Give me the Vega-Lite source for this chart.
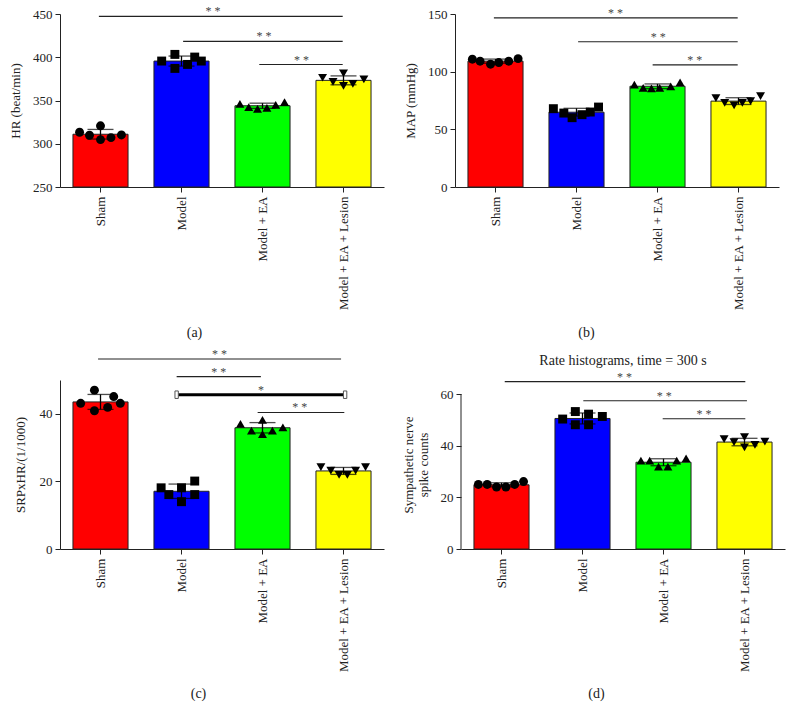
{
  "$schema": "https://vega.github.io/schema/vega-lite/v6.json",
  "background": "white",
  "padding": {"left": 9, "top": 5, "right": 5, "bottom": 5},
  "config": {
    "font": "Liberation Serif",
    "view": {"stroke": null},
    "axis": {"grid": false, "domainColor": "#222", "tickColor": "#222", "labelColor": "#222", "titleColor": "#222", "labelFont": "Liberation Serif", "titleFont": "Liberation Serif", "labelFontSize": 13, "titleFontSize": 13, "titleFontWeight": "normal", "tickSize": 5, "labelPadding": 3},
    "title": {"font": "Liberation Serif", "fontWeight": "normal", "fontSize": 14, "color": "#222"}
  },
  "datasets": {
    "hr": [
      {"group": "Sham", "value": 313.3, "jitter": -0.38}, {"group": "Sham", "value": 309.8, "jitter": -0.2}, {"group": "Sham", "value": 320.7, "jitter": 0}, {"group": "Sham", "value": 304.8, "jitter": 0}, {"group": "Sham", "value": 307.1, "jitter": 0.19}, {"group": "Sham", "value": 310.2, "jitter": 0.38},
      {"group": "Model", "value": 395.6, "jitter": -0.36}, {"group": "Model", "value": 403.3, "jitter": -0.12}, {"group": "Model", "value": 387.1, "jitter": -0.12}, {"group": "Model", "value": 391.7, "jitter": 0.11}, {"group": "Model", "value": 400.2, "jitter": 0.24}, {"group": "Model", "value": 395.6, "jitter": 0.36},
      {"group": "Model + EA", "value": 346.2, "jitter": -0.41}, {"group": "Model + EA", "value": 342.3, "jitter": -0.25}, {"group": "Model + EA", "value": 340.4, "jitter": -0.09}, {"group": "Model + EA", "value": 341.5, "jitter": 0.08}, {"group": "Model + EA", "value": 345.0, "jitter": 0.24}, {"group": "Model + EA", "value": 348.1, "jitter": 0.4},
      {"group": "Model + EA + Lesion", "value": 376.3, "jitter": -0.38}, {"group": "Model + EA + Lesion", "value": 371.6, "jitter": -0.19}, {"group": "Model + EA + Lesion", "value": 381.3, "jitter": 0}, {"group": "Model + EA + Lesion", "value": 367.0, "jitter": 0}, {"group": "Model + EA + Lesion", "value": 369.3, "jitter": 0.17}, {"group": "Model + EA + Lesion", "value": 374.3, "jitter": 0.37}
    ],
    "map": [
      {"group": "Sham", "value": 110.8, "jitter": -0.42}, {"group": "Sham", "value": 109.1, "jitter": -0.28}, {"group": "Sham", "value": 106.5, "jitter": -0.09}, {"group": "Sham", "value": 107.9, "jitter": 0.06}, {"group": "Sham", "value": 109.1, "jitter": 0.24}, {"group": "Sham", "value": 111.3, "jitter": 0.41},
      {"group": "Model", "value": 67.9, "jitter": -0.42}, {"group": "Model", "value": 64.1, "jitter": -0.23}, {"group": "Model", "value": 60.1, "jitter": -0.08}, {"group": "Model", "value": 62.7, "jitter": 0.1}, {"group": "Model", "value": 65.0, "jitter": 0.25}, {"group": "Model", "value": 69.3, "jitter": 0.4},
      {"group": "Model + EA", "value": 88.7, "jitter": -0.42}, {"group": "Model + EA", "value": 85.9, "jitter": -0.26}, {"group": "Model + EA", "value": 85.6, "jitter": -0.11}, {"group": "Model + EA", "value": 85.9, "jitter": 0.04}, {"group": "Model + EA", "value": 87.3, "jitter": 0.24}, {"group": "Model + EA", "value": 90.7, "jitter": 0.41},
      {"group": "Model + EA + Lesion", "value": 77.0, "jitter": -0.41}, {"group": "Model + EA + Lesion", "value": 73.0, "jitter": -0.25}, {"group": "Model + EA + Lesion", "value": 70.7, "jitter": -0.08}, {"group": "Model + EA + Lesion", "value": 73.0, "jitter": 0.07}, {"group": "Model + EA + Lesion", "value": 74.4, "jitter": 0.22}, {"group": "Model + EA + Lesion", "value": 78.7, "jitter": 0.4}
    ],
    "srp": [
      {"group": "Sham", "value": 43.1, "jitter": -0.36}, {"group": "Sham", "value": 47.0, "jitter": -0.11}, {"group": "Sham", "value": 40.9, "jitter": -0.11}, {"group": "Sham", "value": 41.9, "jitter": 0.13}, {"group": "Sham", "value": 45.1, "jitter": 0.24}, {"group": "Sham", "value": 43.1, "jitter": 0.36},
      {"group": "Model", "value": 18.1, "jitter": -0.37}, {"group": "Model", "value": 16.1, "jitter": -0.23}, {"group": "Model", "value": 18.1, "jitter": 0}, {"group": "Model", "value": 14.0, "jitter": 0}, {"group": "Model", "value": 20.1, "jitter": 0.24}, {"group": "Model", "value": 16.1, "jitter": 0.24},
      {"group": "Model + EA", "value": 37.0, "jitter": -0.4}, {"group": "Model + EA", "value": 35.0, "jitter": -0.2}, {"group": "Model + EA", "value": 38.2, "jitter": 0}, {"group": "Model + EA", "value": 34.0, "jitter": 0}, {"group": "Model + EA", "value": 35.0, "jitter": 0.18}, {"group": "Model + EA", "value": 36.0, "jitter": 0.37},
      {"group": "Model + EA + Lesion", "value": 24.2, "jitter": -0.41}, {"group": "Model + EA + Lesion", "value": 23.2, "jitter": -0.23}, {"group": "Model + EA + Lesion", "value": 21.9, "jitter": -0.08}, {"group": "Model + EA + Lesion", "value": 21.9, "jitter": 0.07}, {"group": "Model + EA + Lesion", "value": 23.2, "jitter": 0.22}, {"group": "Model + EA + Lesion", "value": 24.2, "jitter": 0.4}
    ],
    "spk": [
      {"group": "Sham", "value": 25.0, "jitter": -0.42}, {"group": "Sham", "value": 25.0, "jitter": -0.26}, {"group": "Sham", "value": 24.0, "jitter": -0.09}, {"group": "Sham", "value": 24.0, "jitter": 0.08}, {"group": "Sham", "value": 25.0, "jitter": 0.24}, {"group": "Sham", "value": 26.1, "jitter": 0.4},
      {"group": "Model", "value": 50.3, "jitter": -0.36}, {"group": "Model", "value": 53.2, "jitter": -0.13}, {"group": "Model", "value": 48.1, "jitter": -0.13}, {"group": "Model", "value": 52.2, "jitter": 0.11}, {"group": "Model", "value": 48.1, "jitter": 0.11}, {"group": "Model", "value": 51.3, "jitter": 0.36},
      {"group": "Model + EA", "value": 34.2, "jitter": -0.41}, {"group": "Model + EA", "value": 34.2, "jitter": -0.25}, {"group": "Model + EA", "value": 31.9, "jitter": -0.09}, {"group": "Model + EA", "value": 31.9, "jitter": 0.08}, {"group": "Model + EA", "value": 34.2, "jitter": 0.24}, {"group": "Model + EA", "value": 35.1, "jitter": 0.41},
      {"group": "Model + EA + Lesion", "value": 42.5, "jitter": -0.37}, {"group": "Model + EA + Lesion", "value": 41.4, "jitter": -0.19}, {"group": "Model + EA + Lesion", "value": 43.3, "jitter": 0}, {"group": "Model + EA + Lesion", "value": 39.3, "jitter": 0}, {"group": "Model + EA + Lesion", "value": 40.3, "jitter": 0.19}, {"group": "Model + EA + Lesion", "value": 41.6, "jitter": 0.37}
    ],
    "sig_a": [
      {"x1": 0.48, "x2": 3.49, "y": 447.3, "xm": 1.89, "label": "* *"},
      {"x1": 1.52, "x2": 3.49, "y": 418.3, "xm": 2.52, "label": "* *"},
      {"x1": 2.46, "x2": 3.49, "y": 391.6, "xm": 2.98, "label": "* *"}
    ],
    "sig_b": [
      {"x1": 0.48, "x2": 3.49, "y": 146.6, "xm": 1.98, "label": "* *"},
      {"x1": 1.52, "x2": 3.49, "y": 125.9, "xm": 2.51, "label": "* *"},
      {"x1": 2.44, "x2": 3.49, "y": 105.9, "xm": 2.96, "label": "* *"}
    ],
    "sig_c": [
      {"x1": 0.47, "x2": 3.47, "y": 56.2, "xm": 1.97, "label": "* *", "kind": "thin"},
      {"x1": 1.44, "x2": 2.48, "y": 51.0, "xm": 1.96, "label": "* *", "kind": "thin"},
      {"x1": 1.44, "x2": 3.52, "y": 45.65, "xm": 2.48, "label": "*", "kind": "thick"},
      {"x1": 2.44, "x2": 3.51, "y": 40.4, "xm": 2.96, "label": "* *", "kind": "thin"}
    ],
    "sig_d": [
      {"x1": 0.54, "x2": 3.51, "y": 64.8, "xm": 2.02, "label": "* *"},
      {"x1": 1.51, "x2": 3.53, "y": 57.4, "xm": 2.51, "label": "* *"},
      {"x1": 2.49, "x2": 3.51, "y": 50.4, "xm": 3.0, "label": "* *"}
    ]
  },
  "vconcat": [
    {
      "spacing": 20,
      "hconcat": [
        {
          "width": 324, "height": 173,
          "resolve": {"scale": {"x": "independent"}},
          "layer": [
            {
              "data": {"name": "hr"},
              "resolve": {"scale": {"xOffset": "independent"}},
              "encoding": {
                "x": {"field": "group", "type": "nominal", "sort": ["Sham", "Model", "Model + EA", "Model + EA + Lesion"], "scale": {"domain": ["Sham", "Model", "Model + EA", "Model + EA + Lesion"], "paddingInner": 0.32, "paddingOuter": 0.16},
                  "axis": {"title": "(a)", "labelAngle": 270, "labelPadding": 4, "labelLimit": 300, "titleX": 134, "titleY": 149, "titleAlign": "center", "titleBaseline": "alphabetic", "titleFontSize": 14}}
              },
              "layer": [
                {"mark": {"type": "bar", "stroke": "#222", "strokeWidth": 1},
                 "encoding": {
                   "y": {"aggregate": "mean", "field": "value", "type": "quantitative", "scale": {"domain": [250, 450], "nice": false, "zero": false}, "axis": {"title": "HR (beat/min)", "values": [250, 300, 350, 400, 450], "titlePadding": 10}},
                   "y2": {"datum": 250},
                   "color": {"field": "group", "type": "nominal", "scale": {"domain": ["Sham", "Model", "Model + EA", "Model + EA + Lesion"], "range": ["#ff0000", "#0000ff", "#00ff00", "#ffff00"]}, "legend": null}
                 }},
                {"mark": {"type": "errorbar", "extent": "stdev", "ticks": {"size": 26}, "color": "#000", "thickness": 1.3},
                 "encoding": {"y": {"field": "value", "type": "quantitative", "title": "HR (beat/min)"}}},
                {"mark": {"type": "point", "filled": true, "color": "#000", "size": 80, "opacity": 1},
                 "encoding": {
                   "xOffset": {"field": "jitter", "type": "quantitative", "scale": {"domain": [-0.5, 0.5], "nice": false, "zero": false}},
                   "y": {"field": "value", "type": "quantitative", "title": "HR (beat/min)"},
                   "shape": {"field": "group", "type": "nominal", "scale": {"domain": ["Sham", "Model", "Model + EA", "Model + EA + Lesion"], "range": ["circle", "square", "triangle-up", "triangle-down"]}, "legend": null}
                 }}
              ]
            },
            {
              "data": {"name": "sig_a"},
              "layer": [
                {"mark": {"type": "rule", "color": "#222", "strokeWidth": 1.1},
                 "encoding": {"x": {"field": "x1", "type": "quantitative", "scale": {"domain": [0, 4], "nice": false, "zero": false}, "axis": null}, "x2": {"field": "x2"}, "y": {"field": "y", "type": "quantitative", "title": "HR (beat/min)"}}},
                {"mark": {"type": "text", "fontSize": 12, "color": "#444", "baseline": "alphabetic", "dy": -1},
                 "encoding": {"x": {"field": "xm", "type": "quantitative", "scale": {"domain": [0, 4], "nice": false, "zero": false}, "axis": null}, "y": {"field": "y", "type": "quantitative", "title": "HR (beat/min)"}, "text": {"field": "label"}}}
              ]
            }
          ]
        },
        {
          "width": 324, "height": 173,
          "resolve": {"scale": {"x": "independent"}},
          "layer": [
            {
              "data": {"name": "map"},
              "resolve": {"scale": {"xOffset": "independent"}},
              "encoding": {
                "x": {"field": "group", "type": "nominal", "sort": ["Sham", "Model", "Model + EA", "Model + EA + Lesion"], "scale": {"domain": ["Sham", "Model", "Model + EA", "Model + EA + Lesion"], "paddingInner": 0.32, "paddingOuter": 0.16},
                  "axis": {"title": "(b)", "labelAngle": 270, "labelPadding": 4, "labelLimit": 300, "titleX": 131, "titleY": 149, "titleAlign": "center", "titleBaseline": "alphabetic", "titleFontSize": 14}}
              },
              "layer": [
                {"mark": {"type": "bar", "stroke": "#222", "strokeWidth": 1},
                 "encoding": {
                   "y": {"aggregate": "mean", "field": "value", "type": "quantitative", "scale": {"domain": [0, 150], "nice": false}, "axis": {"title": "MAP (mmHg)", "values": [0, 50, 100, 150], "titlePadding": 10}},
                   "color": {"field": "group", "type": "nominal", "scale": {"domain": ["Sham", "Model", "Model + EA", "Model + EA + Lesion"], "range": ["#ff0000", "#0000ff", "#00ff00", "#ffff00"]}, "legend": null}
                 }},
                {"mark": {"type": "errorbar", "extent": "stdev", "ticks": {"size": 26}, "color": "#000", "thickness": 1.3},
                 "encoding": {"y": {"field": "value", "type": "quantitative", "title": "MAP (mmHg)"}}},
                {"mark": {"type": "point", "filled": true, "color": "#000", "size": 80, "opacity": 1},
                 "encoding": {
                   "xOffset": {"field": "jitter", "type": "quantitative", "scale": {"domain": [-0.5, 0.5], "nice": false, "zero": false}},
                   "y": {"field": "value", "type": "quantitative", "title": "MAP (mmHg)"},
                   "shape": {"field": "group", "type": "nominal", "scale": {"domain": ["Sham", "Model", "Model + EA", "Model + EA + Lesion"], "range": ["circle", "square", "triangle-up", "triangle-down"]}, "legend": null}
                 }}
              ]
            },
            {
              "data": {"name": "sig_b"},
              "layer": [
                {"mark": {"type": "rule", "color": "#222", "strokeWidth": 1.1},
                 "encoding": {"x": {"field": "x1", "type": "quantitative", "scale": {"domain": [0, 4], "nice": false, "zero": false}, "axis": null}, "x2": {"field": "x2"}, "y": {"field": "y", "type": "quantitative", "title": "MAP (mmHg)"}}},
                {"mark": {"type": "text", "fontSize": 12, "color": "#444", "baseline": "alphabetic", "dy": -1},
                 "encoding": {"x": {"field": "xm", "type": "quantitative", "scale": {"domain": [0, 4], "nice": false, "zero": false}, "axis": null}, "y": {"field": "y", "type": "quantitative", "title": "MAP (mmHg)"}, "text": {"field": "label"}}}
              ]
            }
          ]
        }
      ]
    },
    {
      "spacing": 18,
      "hconcat": [
        {
          "width": 324, "height": 169,
          "resolve": {"scale": {"x": "independent"}},
          "layer": [
            {
              "data": {"name": "srp"},
              "resolve": {"scale": {"xOffset": "independent"}},
              "encoding": {
                "x": {"field": "group", "type": "nominal", "sort": ["Sham", "Model", "Model + EA", "Model + EA + Lesion"], "scale": {"domain": ["Sham", "Model", "Model + EA", "Model + EA + Lesion"], "paddingInner": 0.32, "paddingOuter": 0.16},
                  "axis": {"title": "(c)", "labelAngle": 270, "labelPadding": 4, "labelLimit": 300, "titleX": 138, "titleY": 148, "titleAlign": "center", "titleBaseline": "alphabetic", "titleFontSize": 14}}
              },
              "layer": [
                {"mark": {"type": "bar", "stroke": "#222", "strokeWidth": 1},
                 "encoding": {
                   "y": {"aggregate": "mean", "field": "value", "type": "quantitative", "scale": {"domain": [0, 50], "nice": false}, "axis": {"title": "SRPxHR/(1/1000)", "values": [0, 10, 20, 30, 40, 50], "titlePadding": 12}},
                   "color": {"field": "group", "type": "nominal", "scale": {"domain": ["Sham", "Model", "Model + EA", "Model + EA + Lesion"], "range": ["#ff0000", "#0000ff", "#00ff00", "#ffff00"]}, "legend": null}
                 }},
                {"mark": {"type": "errorbar", "extent": "stdev", "ticks": {"size": 26}, "color": "#000", "thickness": 1.3},
                 "encoding": {"y": {"field": "value", "type": "quantitative", "title": "SRPxHR/(1/1000)"}}},
                {"mark": {"type": "point", "filled": true, "color": "#000", "size": 80, "opacity": 1},
                 "encoding": {
                   "xOffset": {"field": "jitter", "type": "quantitative", "scale": {"domain": [-0.5, 0.5], "nice": false, "zero": false}},
                   "y": {"field": "value", "type": "quantitative", "title": "SRPxHR/(1/1000)"},
                   "shape": {"field": "group", "type": "nominal", "scale": {"domain": ["Sham", "Model", "Model + EA", "Model + EA + Lesion"], "range": ["circle", "square", "triangle-up", "triangle-down"]}, "legend": null}
                 }}
              ]
            },
            {
              "data": {"name": "sig_c"},
              "layer": [
                {"transform": [{"filter": "datum.kind === 'thin'"}],
                 "mark": {"type": "rule", "color": "#222", "strokeWidth": 1.1},
                 "encoding": {"x": {"field": "x1", "type": "quantitative", "scale": {"domain": [0, 4], "nice": false, "zero": false}, "axis": null}, "x2": {"field": "x2"}, "y": {"field": "y", "type": "quantitative", "title": "SRPxHR/(1/1000)"}}},
                {"transform": [{"filter": "datum.kind === 'thick'"}],
                 "mark": {"type": "rule", "color": "#000", "strokeWidth": 3},
                 "encoding": {"x": {"field": "x1", "type": "quantitative", "scale": {"domain": [0, 4], "nice": false, "zero": false}, "axis": null}, "x2": {"field": "x2"}, "y": {"field": "y", "type": "quantitative", "title": "SRPxHR/(1/1000)"}}},
                {"transform": [{"filter": "datum.kind === 'thick'"}],
                 "mark": {"type": "point", "shape": "M-0.45,-1H0.45V1H-0.45Z", "filled": true, "fill": "white", "stroke": "#555", "strokeWidth": 1, "size": 56, "opacity": 1},
                 "encoding": {"x": {"field": "x1", "type": "quantitative", "scale": {"domain": [0, 4], "nice": false, "zero": false}, "axis": null}, "y": {"field": "y", "type": "quantitative", "title": "SRPxHR/(1/1000)"}}},
                {"transform": [{"filter": "datum.kind === 'thick'"}],
                 "mark": {"type": "point", "shape": "M-0.45,-1H0.45V1H-0.45Z", "filled": true, "fill": "white", "stroke": "#555", "strokeWidth": 1, "size": 56, "opacity": 1},
                 "encoding": {"x": {"field": "x2", "type": "quantitative", "scale": {"domain": [0, 4], "nice": false, "zero": false}, "axis": null}, "y": {"field": "y", "type": "quantitative", "title": "SRPxHR/(1/1000)"}}},
                {"mark": {"type": "text", "fontSize": 12, "color": "#444", "baseline": "alphabetic", "dy": -1},
                 "encoding": {"x": {"field": "xm", "type": "quantitative", "scale": {"domain": [0, 4], "nice": false, "zero": false}, "axis": null}, "y": {"field": "y", "type": "quantitative", "title": "SRPxHR/(1/1000)"}, "text": {"field": "label"}}}
              ]
            }
          ]
        },
        {
          "width": 324, "height": 169,
          "title": {"text": "Rate histograms, time = 300 s", "frame": "group", "anchor": "middle", "offset": 3},
          "resolve": {"scale": {"x": "independent"}},
          "layer": [
            {
              "data": {"name": "spk"},
              "resolve": {"scale": {"xOffset": "independent"}},
              "encoding": {
                "x": {"field": "group", "type": "nominal", "sort": ["Sham", "Model", "Model + EA", "Model + EA + Lesion"], "scale": {"domain": ["Sham", "Model", "Model + EA", "Model + EA + Lesion"], "paddingInner": 0.32, "paddingOuter": 0.16},
                  "axis": {"title": "(d)", "labelAngle": 270, "labelPadding": 4, "labelLimit": 300, "titleX": 135, "titleY": 148, "titleAlign": "center", "titleBaseline": "alphabetic", "titleFontSize": 14}}
              },
              "layer": [
                {"mark": {"type": "bar", "stroke": "#222", "strokeWidth": 1},
                 "encoding": {
                   "y": {"aggregate": "mean", "field": "value", "type": "quantitative", "scale": {"domain": [0, 65.42], "nice": false}, "axis": {"title": ["Sympathetic nerve", "spike counts"], "values": [0, 20, 40, 60], "domain": false, "titlePadding": 10, "titleLineHeight": 15}},
                   "color": {"field": "group", "type": "nominal", "scale": {"domain": ["Sham", "Model", "Model + EA", "Model + EA + Lesion"], "range": ["#ff0000", "#0000ff", "#00ff00", "#ffff00"]}, "legend": null}
                 }},
                {"mark": {"type": "errorbar", "extent": "stdev", "ticks": {"size": 26}, "color": "#000", "thickness": 1.3},
                 "encoding": {"y": {"field": "value", "type": "quantitative", "title": ["Sympathetic nerve", "spike counts"]}}},
                {"mark": {"type": "point", "filled": true, "color": "#000", "size": 80, "opacity": 1},
                 "encoding": {
                   "xOffset": {"field": "jitter", "type": "quantitative", "scale": {"domain": [-0.5, 0.5], "nice": false, "zero": false}},
                   "y": {"field": "value", "type": "quantitative", "title": ["Sympathetic nerve", "spike counts"]},
                   "shape": {"field": "group", "type": "nominal", "scale": {"domain": ["Sham", "Model", "Model + EA", "Model + EA + Lesion"], "range": ["circle", "square", "triangle-up", "triangle-down"]}, "legend": null}
                 }}
              ]
            },
            {
              "data": {"values": [{"lo": 0, "hi": 60}]},
              "mark": {"type": "rule", "color": "#222", "strokeWidth": 1},
              "encoding": {"x": {"value": 0}, "y": {"field": "lo", "type": "quantitative", "title": ["Sympathetic nerve", "spike counts"]}, "y2": {"field": "hi"}}
            },
            {
              "data": {"name": "sig_d"},
              "layer": [
                {"mark": {"type": "rule", "color": "#222", "strokeWidth": 1.1},
                 "encoding": {"x": {"field": "x1", "type": "quantitative", "scale": {"domain": [0, 4], "nice": false, "zero": false}, "axis": null}, "x2": {"field": "x2"}, "y": {"field": "y", "type": "quantitative", "title": ["Sympathetic nerve", "spike counts"]}}},
                {"mark": {"type": "text", "fontSize": 12, "color": "#444", "baseline": "alphabetic", "dy": -1},
                 "encoding": {"x": {"field": "xm", "type": "quantitative", "scale": {"domain": [0, 4], "nice": false, "zero": false}, "axis": null}, "y": {"field": "y", "type": "quantitative", "title": ["Sympathetic nerve", "spike counts"]}, "text": {"field": "label"}}}
              ]
            }
          ]
        }
      ]
    }
  ],
  "spacing": 9
}
